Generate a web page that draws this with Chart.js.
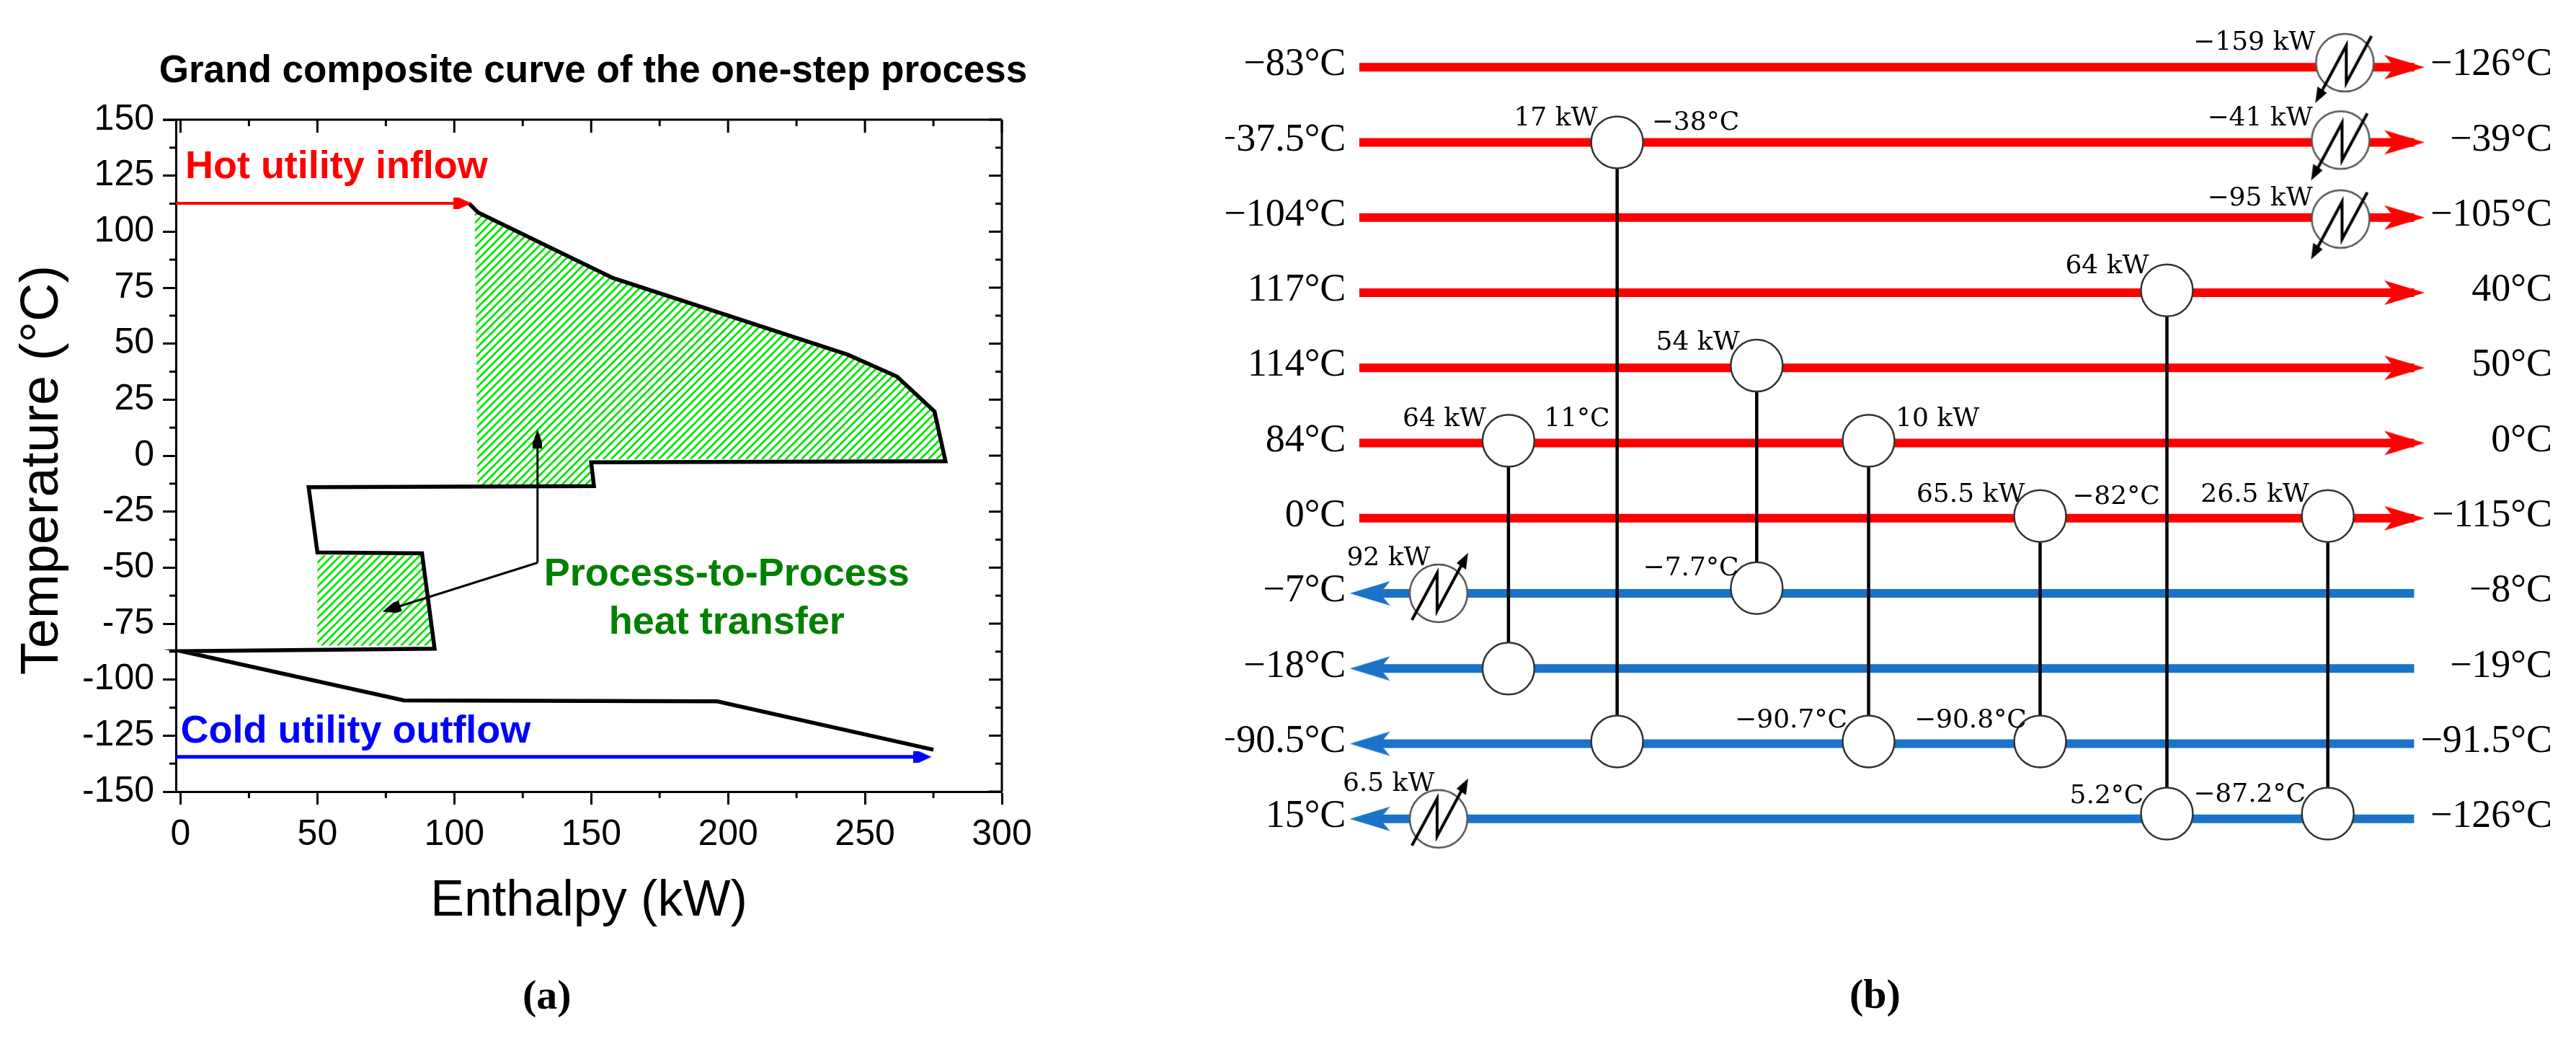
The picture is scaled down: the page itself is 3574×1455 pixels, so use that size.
<!DOCTYPE html>
<html>
<head>
<meta charset="utf-8">
<title>Grand composite curve and heat exchanger network</title>
<script src="https://cdn.jsdelivr.net/npm/chart.js@4/dist/chart.umd.js"></script>
<style>
  html, body { margin: 0; padding: 0; background: #fff; overflow: hidden; }
  canvas { position: absolute; top: 0; }
  #curveChart { left: 0; }
  #networkChart { left: 1700px; }
</style>
</head>
<body>
<canvas id="curveChart" width="1700" height="1455"></canvas>
<canvas id="networkChart" width="1874" height="1455"></canvas>
<script>
// Panel (a): grand composite curve
const curveEnthalpy = [105.3, 108.7, 158, 243.7, 261.7, 275.4, 279.4, 150, 151, 46.8, 50, 88.2, 92.8, 0.3, 81.6, 196, 275];
const curveTemp = [112.7, 108.6, 79.3, 45.1, 35.3, 19.7, -2.5, -3, -13.6, -14.1, -43.2, -43.6, -86.2, -87.3, -109.3, -109.7, -131.3];

const hatchUpperEnthalpy = [107.5, 108.7, 158, 243.7, 261.7, 275.4, 279.4, 149.5, 150, 108.5];
const hatchUpperTemp = [108, 108.6, 79.3, 45.1, 35.3, 19.7, -1.5, -1.5, -12.9, -12.9];
const hatchLowerEnthalpy = [50, 88.2, 92, 50];
const hatchLowerTemp = [-44.5, -44.5, -84.8, -84.8];

const hotUtilityEnthalpy = [-1.7, 103];
const hotUtilityTemp = [112.7, 112.7];
const coldUtilityEnthalpy = [-1.7, 271];
const coldUtilityTemp = [-134.5, -134.5];

const arrowUpEnthalpy = [130.4, 130.4];
const arrowUpTemp = [-47.8, 7.5];
const arrowDownEnthalpy = [130.4, 77];
const arrowDownTemp = [-47.8, -68.4];

const xTickValues = [0, 50, 100, 150, 200, 250, 300];
const xMinorTicks = [25, 75, 125, 175, 225, 275];
const yTickValues = [150, 125, 100, 75, 50, 25, 0, -25, -50, -75, -100, -125, -150];
const yMinorTicks = [137.5, 112.5, 87.5, 62.5, 37.5, 12.5, -12.5, -37.5, -62.5, -87.5, -112.5, -137.5];

const curveNoteTexts = ['Hot utility inflow', 'Cold utility outflow', 'Process-to-Process', 'heat transfer'];
const curveNoteX = [1.7, 0, 199.5, 199.5];
const curveNoteY = [128.8, -123.3, -53, -74.7];
const curveNoteColors = ['#ff0000', '#0000ff', '#008000', '#008000'];
const curveNoteAlign = ['left', 'left', 'center', 'center'];

// Panel (b): heat exchanger network, rows 0-6 hot, rows 7-10 cold
const hotRows = [0, 1, 2, 3, 4, 5, 6];
const coldRows = [7, 8, 9, 10];
const streamInletLabels = ['−83°C', '−37.5°C', '−104°C', '117°C', '114°C', '84°C', '0°C', '−7°C', '−18°C', '−90.5°C', '15°C'];
const streamOutletLabels = ['−126°C', '−39°C', '−105°C', '40°C', '50°C', '0°C', '−115°C', '−8°C', '−19°C', '−91.5°C', '−126°C'];

const exchangerX = [140, 242, 373, 478, 639, 758, 909];
const exchangerHotY = [4.97, 1, 3.97, 4.97, 5.97, 2.97, 5.97];
const exchangerColdY = [8, 8.97, 6.93, 8.97, 8.97, 9.93, 9.93];

const coolerX = [925, 921, 921];
const coolerY = [-0.06, 0.97, 2.02];
const heaterX = [74.4, 74.4];
const heaterY = [7, 10];

const dutyTexts = ['−159 kW', '17 kW', '−38°C', '−41 kW', '−95 kW', '64 kW', '54 kW', '64 kW', '11°C', '10 kW', '65.5 kW', '−82°C', '26.5 kW',
  '92 kW', '−7.7°C', '−90.7°C', '−90.8°C', '6.5 kW', '5.2°C', '−87.2°C'];
const dutyX = [897.2, 223.6, 274.5, 894.8, 894.8, 741.1, 357, 119.2, 173.4, 503.4, 624.7, 669.2, 891.5,
  66.7, 356.2, 458, 626.3, 70.7, 736.3, 888.3];
const dutyY = [-0.325, 0.686, 0.741, 0.686, 1.747, 2.653, 3.668, 4.684, 4.684, 4.684, 5.69, 5.717, 5.69,
  6.536, 6.674, 8.695, 8.695, 9.537, 9.699, 9.68];
const dutyAlign = ['right', 'right', 'left', 'right', 'right', 'right', 'right', 'right', 'left', 'left', 'right', 'left', 'right',
  'right', 'right', 'right', 'right', 'right', 'right', 'right'];

const RED = '#ff0000';
const STREAM_BLUE = '#1a73c8';
const SANS = '"Liberation Sans", Arial, sans-serif';
const SERIF = '"Liberation Serif", "Times New Roman", serif';

const zip = (xs, ys) => xs.map((x, i) => ({ x, y: ys[i] }));

function makeCanvas(w, h, draw) {
  const c = document.createElement('canvas');
  c.width = w;
  c.height = h;
  draw(c.getContext('2d'));
  return c;
}

// hatch tile for the process-to-process areas
function hatchPattern() {
  const p = 11;
  const tile = makeCanvas(p, p, g => {
    g.strokeStyle = '#00e600';
    g.lineWidth = 2.8;
    g.beginPath();
    g.moveTo(-p, 2 * p); g.lineTo(2 * p, -p);
    g.moveTo(-p, p); g.lineTo(p, -p);
    g.moveTo(0, 2 * p); g.lineTo(2 * p, 0);
    g.stroke();
  });
  return document.createElement('canvas').getContext('2d').createPattern(tile, 'repeat');
}

// small solid head for the arrows in panel (a), pointing right
function solidHead(color, w, h) {
  return makeCanvas(w, h, g => {
    g.fillStyle = color;
    g.beginPath();
    g.moveTo(0, 0); g.lineTo(w * 0.3, 0); g.lineTo(w, h / 2); g.lineTo(w * 0.3, h); g.lineTo(0, h);
    g.closePath();
    g.fill();
  });
}

// notched head for the streams in panel (b), pointing right
function streamHead(color) {
  return makeCanvas(56, 36, g => {
    g.fillStyle = color;
    g.beginPath();
    g.moveTo(0, 1); g.lineTo(56, 18); g.lineTo(0, 35); g.lineTo(14, 18);
    g.closePath();
    g.fill();
  });
}

// cooler symbol, turned by 180 degrees it is the heater symbol
function utilitySymbol() {
  return makeCanvas(140, 140, g => {
    g.translate(70, 70);
    g.fillStyle = '#fff';
    g.strokeStyle = '#555';
    g.lineWidth = 2.5;
    g.beginPath();
    g.arc(0, 0, 40, 0, Math.PI * 2);
    g.fill();
    g.stroke();
    g.strokeStyle = '#000';
    g.lineWidth = 4;
    g.beginPath();
    g.moveTo(-36, 47); g.lineTo(2, -24); g.lineTo(2, 28); g.lineTo(37, -37);
    g.stroke();
    g.fillStyle = '#000';
    g.beginPath();
    g.moveTo(-41, 56); g.lineTo(-38, 33); g.lineTo(-25, 42);
    g.closePath();
    g.fill();
  });
}

const hatch = hatchPattern();

function lineSet(data, color, width, order) {
  return { data, borderColor: color, borderWidth: width, pointRadius: 0, showLine: true, fill: false, order, clip: false };
}

function headSet(point, image, rotation, order) {
  return { data: [point], pointStyle: image, pointRotation: rotation, pointRadius: 12, showLine: false, order, clip: false };
}

// extra ticks the library does not draw: minor ticks, mirrored top and right ticks, top and right border
const curveFramePlugin = {
  id: 'curveFrame',
  afterDraw(chart) {
    const { ctx, chartArea: a, scales: { x, y } } = chart;
    ctx.save();
    ctx.strokeStyle = '#000';
    ctx.lineWidth = 3;
    const seg = (x0, y0, x1, y1) => {
      ctx.beginPath();
      ctx.moveTo(x0, y0);
      ctx.lineTo(x1, y1);
      ctx.stroke();
    };
    seg(a.left - 18, a.top, a.right, a.top);
    seg(a.right, a.top, a.right, a.bottom);
    xTickValues.forEach(v => seg(x.getPixelForValue(v), a.top, x.getPixelForValue(v), a.top + 18));
    xMinorTicks.forEach(v => {
      const px = x.getPixelForValue(v);
      seg(px, a.top, px, a.top + 9);
      seg(px, a.bottom, px, a.bottom + 9);
    });
    yTickValues.forEach(v => seg(a.right - 18, y.getPixelForValue(v), a.right, y.getPixelForValue(v)));
    yMinorTicks.forEach(v => {
      const py = y.getPixelForValue(v);
      seg(a.left - 9, py, a.left, py);
      seg(a.right - 9, py, a.right, py);
    });

    ctx.textBaseline = 'middle';
    ctx.font = 'bold 54px ' + SANS;
    curveNoteTexts.forEach((t, i) => {
      ctx.fillStyle = curveNoteColors[i];
      ctx.textAlign = curveNoteAlign[i];
      ctx.fillText(t, x.getPixelForValue(curveNoteX[i]), y.getPixelForValue(curveNoteY[i]));
    });

    ctx.fillStyle = '#000';
    ctx.textAlign = 'center';
    ctx.font = 'bold 53px ' + SANS;
    ctx.fillText('Grand composite curve of the one-step process', 823, 99);

    ctx.save();
    ctx.translate(60, 652);
    ctx.rotate(-Math.PI / 2);
    ctx.font = '74px ' + SANS;
    ctx.fillText('Temperature (°C)', 0, 0);
    ctx.restore();

    ctx.font = 'bold 58px ' + SERIF;
    ctx.fillText('(a)', x.getPixelForValue(133.8), y.getPixelForValue(-242));
    ctx.restore();
  }
};

new Chart(document.getElementById('curveChart'), {
  type: 'scatter',
  data: {
    datasets: [
      { ...lineSet(zip(hatchUpperEnthalpy, hatchUpperTemp), 'transparent', 0, 10), fill: 'shape', backgroundColor: hatch },
      { ...lineSet(zip(hatchLowerEnthalpy, hatchLowerTemp), 'transparent', 0, 10), fill: 'shape', backgroundColor: hatch },
      lineSet(zip(curveEnthalpy, curveTemp), '#000', 5.5, 5),
      lineSet(zip(hotUtilityEnthalpy, hotUtilityTemp), RED, 4, 3),
      lineSet(zip(coldUtilityEnthalpy, coldUtilityTemp), '#0000ff', 5, 3),
      lineSet(zip(arrowUpEnthalpy, arrowUpTemp), '#000', 3, 2),
      lineSet(zip(arrowDownEnthalpy, arrowDownTemp), '#000', 3, 2),
      headSet({ x: 103, y: 112.7 }, solidHead(RED, 25, 16), 0, 1),
      headSet({ x: 271, y: -134.5 }, solidHead('#0000ff', 25, 16), 0, 1),
      headSet({ x: 130.4, y: 7.5 }, solidHead('#000', 26, 13), -90, 1),
      headSet({ x: 77, y: -68.4 }, solidHead('#000', 26, 15), 162, 1)
    ]
  },
  options: {
    responsive: false,
    devicePixelRatio: 1,
    animation: false,
    layout: { padding: { left: 0, right: 310, top: 166, bottom: 0 } },
    plugins: {
      legend: { display: false },
      tooltip: { enabled: false }
    },
    scales: {
      x: {
        type: 'linear',
        min: -1.7,
        max: 300,
        afterBuildTicks: s => { s.ticks = xTickValues.map(value => ({ value })); },
        afterFit: s => { s.height = 357; },
        border: { color: '#000', width: 3 },
        grid: { drawOnChartArea: false, tickLength: 18, tickWidth: 3, tickColor: '#000' },
        ticks: { color: '#000', font: { family: SANS, size: 50 }, padding: 12, maxRotation: 0, autoSkip: false },
        title: { display: true, text: 'Enthalpy (kW)', color: '#000', font: { family: SANS, size: 70 }, padding: { top: 0, bottom: 162 } }
      },
      y: {
        min: -150,
        max: 150,
        afterBuildTicks: s => { s.ticks = yTickValues.map(value => ({ value })); },
        afterFit: s => { s.width = 244; },
        border: { color: '#000', width: 3 },
        grid: { drawOnChartArea: false, tickLength: 18, tickWidth: 3, tickColor: '#000' },
        ticks: { color: '#000', font: { family: SANS, size: 50 }, padding: 12, autoSkip: false }
      }
    }
  },
  plugins: [curveFramePlugin]
});

// labels of panel (b)
const networkLabelPlugin = {
  id: 'networkLabels',
  afterDraw(chart) {
    const { ctx, scales: { x, y } } = chart;
    ctx.save();
    ctx.fillStyle = '#000';
    ctx.textBaseline = 'middle';
    ctx.textAlign = 'right';
    ctx.font = '54px ' + SERIF;
    streamInletLabels.forEach((t, i) => ctx.fillText(t, x.getPixelForValue(-12.6), y.getPixelForValue(i) - 3));
    streamOutletLabels.forEach((t, i) => ctx.fillText(t, x.getPixelForValue(1119.6), y.getPixelForValue(i) - 3));
    ctx.font = '36px "DejaVu Serif", ' + SERIF;
    dutyTexts.forEach((t, i) => {
      ctx.textAlign = dutyAlign[i];
      ctx.fillText(t, x.getPixelForValue(dutyX[i]), y.getPixelForValue(dutyY[i]));
    });
    ctx.textAlign = 'center';
    ctx.font = 'bold 58px ' + SERIF;
    ctx.fillText('(b)', x.getPixelForValue(484), y.getPixelForValue(12.37));
    ctx.restore();
  }
};

const symbol = utilitySymbol();

new Chart(document.getElementById('networkChart'), {
  type: 'scatter',
  data: {
    datasets: [
      ...hotRows.map(r => lineSet(zip([0, 990], [r, r]), RED, 12, 20)),
      ...coldRows.map(r => lineSet(zip([10, 990], [r, r]), STREAM_BLUE, 12, 20)),
      ...exchangerX.map((u, i) => lineSet(zip([u, u], [exchangerHotY[i], exchangerColdY[i]]), '#000', 4.5, 10)),
      {
        data: [...zip(exchangerX, exchangerHotY), ...zip(exchangerX, exchangerColdY)],
        pointRadius: 36,
        pointBackgroundColor: '#fff',
        pointBorderColor: '#333',
        pointBorderWidth: 2.5,
        showLine: false,
        order: 5,
        clip: false
      },
      ...hotRows.map(r => headSet({ x: 981, y: r }, streamHead(RED), 0, 4)),
      ...coldRows.map(r => headSet({ x: 10, y: r }, streamHead(STREAM_BLUE), 180, 4)),
      { data: zip(coolerX, coolerY), pointStyle: symbol, pointRadius: 40, showLine: false, order: 3, clip: false },
      { data: zip(heaterX, heaterY), pointStyle: symbol, pointRotation: 180, pointRadius: 40, showLine: false, order: 3, clip: false }
    ]
  },
  options: {
    responsive: false,
    devicePixelRatio: 1,
    animation: false,
    layout: { padding: { left: 112, right: 62, top: 38, bottom: 267 } },
    plugins: { legend: { display: false }, tooltip: { enabled: false } },
    scales: {
      x: { type: 'linear', display: false, min: -50, max: 1100 },
      y: { display: false, reverse: true, min: -0.5, max: 10.5 }
    }
  },
  plugins: [networkLabelPlugin]
});
</script>
</body>
</html>
